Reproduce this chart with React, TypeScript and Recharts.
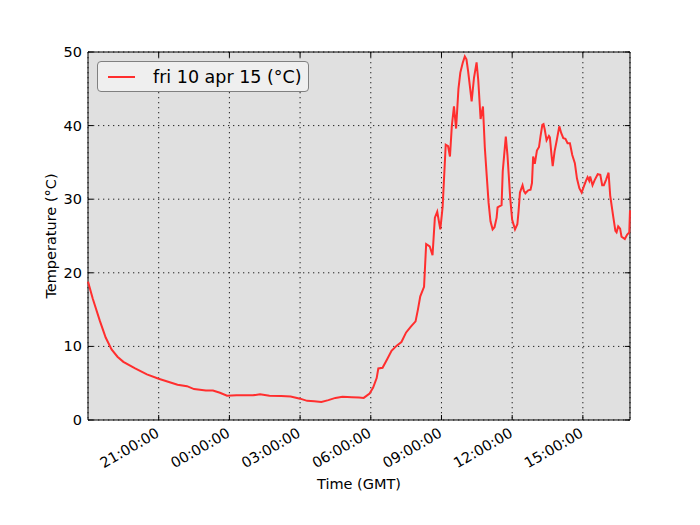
import {
  LineChart,
  Line,
  XAxis,
  YAxis,
  CartesianGrid,
  ReferenceArea,
  Legend,
} from "recharts";

// hours since 18:00 GMT (thu) and temperature
const hours = [
  0.0, 0.2, 0.5, 0.75, 1.0, 1.25, 1.5, 2.0, 2.5, 3.0, 3.4, 3.8, 4.2, 4.5, 5.0,
  5.3, 5.6, 5.9, 6.3, 7.0, 7.3, 7.7, 8.2, 8.6, 9.0, 9.3, 9.6, 9.9, 10.2, 10.5,
  10.8, 11.2, 11.5, 11.7, 11.95, 12.1, 12.25, 12.32, 12.5, 12.7, 12.88, 13.1,
  13.3, 13.5, 13.7, 13.9, 14.0, 14.1, 14.26, 14.35, 14.5, 14.62, 14.72, 14.82,
  14.95, 15.05, 15.18, 15.28, 15.36, 15.44, 15.53, 15.62, 15.72, 15.8, 15.9,
  15.99, 16.06, 16.13, 16.2, 16.28, 16.38, 16.49, 16.56, 16.66, 16.76, 16.84,
  16.92, 17.0, 17.08, 17.17, 17.25, 17.34, 17.38, 17.55, 17.6, 17.66, 17.73,
  17.8, 17.85, 17.92, 18.0, 18.12, 18.22, 18.27, 18.33, 18.44, 18.5, 18.56,
  18.68, 18.78, 18.84, 18.89, 18.96, 19.05, 19.14, 19.2, 19.28, 19.33, 19.38,
  19.46, 19.56, 19.6, 19.67, 19.72, 19.8, 19.88, 20.0, 20.08, 20.17, 20.26,
  20.35, 20.45, 20.55, 20.66, 20.75, 20.85, 20.95, 21.05, 21.13, 21.2, 21.27,
  21.31, 21.41, 21.5, 21.63, 21.74, 21.82, 21.89, 21.98, 22.09, 22.16, 22.29,
  22.38, 22.43, 22.5, 22.58, 22.64, 22.78, 22.88, 22.97, 23.0,
];

const temps = [
  18.8, 16.5, 13.5, 11.2, 9.6, 8.6, 7.9, 7.0, 6.2, 5.6, 5.2, 4.8, 4.6, 4.2, 4.0,
  4.0, 3.7, 3.3, 3.35, 3.35, 3.5, 3.3, 3.25, 3.2, 2.9, 2.6, 2.55, 2.45, 2.7, 3.0,
  3.15, 3.1, 3.05, 3.0, 3.6, 4.4, 5.7, 7.0, 7.1, 8.3, 9.4, 10.1,
  10.6, 11.9, 12.7, 13.4, 15.0, 16.8, 18.1, 23.9, 23.6, 22.4, 27.5, 28.3,
  25.9, 29.0, 37.4, 37.2, 35.8, 40.0, 42.6, 39.6, 45.0, 47.2, 48.5,
  49.4, 49.0, 47.4, 45.5, 43.3, 46.5, 48.6, 46.2, 40.9, 42.6, 37.0,
  33.2, 29.5, 27.0, 25.9, 26.2, 27.5, 28.9, 29.2, 33.8, 36.0, 38.5,
  36.0, 33.5, 30.0, 27.2, 25.9, 26.6, 28.3, 30.9, 31.9, 31.1, 30.8,
  31.2, 31.3, 32.2, 35.8, 34.8, 36.6, 37.1, 38.5, 40.1, 40.2, 39.5,
  38.0, 38.6, 38.4, 36.0, 34.5, 36.5, 37.8, 39.9, 39.0, 38.3, 38.2,
  37.6, 37.6, 36.0, 34.9, 32.8, 31.5, 30.9, 31.8, 32.5, 33.0, 32.5,
  33.1, 31.9, 32.6, 33.4, 33.3, 31.9, 31.9, 32.6, 33.6, 30.5, 27.6,
  25.7, 25.5, 26.3, 26.0, 24.9, 24.6, 25.2, 25.5, 28.5,
];

const xTicks = [3, 6, 9, 12, 15, 18, 21];
const yTicks = [0, 10, 20, 30, 40, 50];
const START_HOUR = 18;
const seriesName = "fri 10 apr 15 (°C)";

const data = hours.map((h, i) => ({ h, temp: temps[i] }));

const W = 700;
const H = 525;
const margin = { top: 52, right: 70, bottom: 30, left: 38 };
const X_AXIS_H = 75;
const Y_AXIS_W = 50;
const PLOT_TOP = margin.top;
const PLOT_BOTTOM = H - margin.bottom - X_AXIS_H;
const PLOT_LEFT = margin.left + Y_AXIS_W;
const PLOT_RIGHT = W - margin.right;
const FONT = "'DejaVu Sans', sans-serif";
const TICK_LEN = 5;
const RED = "#ff2e2e";

const fmtHour = (h: number) =>
  `${String((START_HOUR + h) % 24).padStart(2, "0")}:00:00`;

function XTick(props: any) {
  const { x, payload } = props;
  return (
    <g>
      <line x1={x} x2={x} y1={PLOT_BOTTOM} y2={PLOT_BOTTOM - TICK_LEN} stroke="#000" />
      <line x1={x} x2={x} y1={PLOT_TOP} y2={PLOT_TOP + TICK_LEN} stroke="#000" />
      <text
        x={x + 1.5}
        y={PLOT_BOTTOM + 16}
        textAnchor="end"
        fontSize={14.5}
        fontFamily={FONT}
        fill="#000"
        transform={`rotate(-30, ${x + 1.5}, ${PLOT_BOTTOM + 16})`}
      >
        {fmtHour(payload.value)}
      </text>
    </g>
  );
}

function YTick(props: any) {
  const { y, payload } = props;
  return (
    <g>
      <line x1={PLOT_LEFT} x2={PLOT_LEFT + TICK_LEN} y1={y} y2={y} stroke="#000" />
      <line x1={PLOT_RIGHT} x2={PLOT_RIGHT - TICK_LEN} y1={y} y2={y} stroke="#000" />
      <text
        x={PLOT_LEFT - 6}
        y={y + 5}
        textAnchor="end"
        fontSize={14.5}
        fontFamily={FONT}
        fill="#000"
      >
        {payload.value}
      </text>
    </g>
  );
}

function LegendBox() {
  return (
    <div
      style={{
        display: "flex",
        alignItems: "center",
        border: "1px solid #808080",
        borderRadius: 4,
        background: "#efefef",
        height: 29,
        padding: "0 6px 0 10px",
        fontFamily: FONT,
        fontSize: 17.5,
        whiteSpace: "nowrap",
      }}
    >
      <svg width={27} height={4} style={{ marginRight: 18 }}>
        <line x1={0} x2={27} y1={2} y2={2} stroke={RED} strokeWidth={2} />
      </svg>
      <span>{seriesName}</span>
    </div>
  );
}

export default function App() {
  return (
    <div style={{ position: "absolute", left: 0, top: 0, width: W, height: H, background: "#fff" }}>
      <LineChart width={W} height={H} data={data} margin={margin}>
        <CartesianGrid
          stroke="#222"
          strokeDasharray="1.3 3.7"
          fill="#e0e0e0"
          fillOpacity={1}
        />
        <XAxis
          dataKey="h"
          type="number"
          domain={[0, 23]}
          ticks={xTicks}
          height={X_AXIS_H}
          axisLine={false}
          tickLine={false}
          tickSize={0}
          tick={<XTick />}
          interval={0}
          label={{
            content: () => (
              <text
                x={(PLOT_LEFT + PLOT_RIGHT) / 2}
                y={488.5}
                textAnchor="middle"
                fontSize={14.5}
                fontFamily={FONT}
                fill="#000"
              >
                Time (GMT)
              </text>
            ),
          }}
        />
        <YAxis
          type="number"
          domain={[0, 50]}
          ticks={yTicks}
          width={Y_AXIS_W}
          axisLine={false}
          tickLine={false}
          tickSize={0}
          tick={<YTick />}
          interval={0}
          label={{
            content: () => (
              <text
                x={56}
                y={(PLOT_TOP + PLOT_BOTTOM) / 2}
                textAnchor="middle"
                fontSize={14.5}
                fontFamily={FONT}
                fill="#000"
                transform={`rotate(-90, 56, ${(PLOT_TOP + PLOT_BOTTOM) / 2})`}
              >
                Temperature (°C)
              </text>
            ),
          }}
        />
        <ReferenceArea
          x1={0}
          x2={23}
          y1={0}
          y2={50}
          fill="none"
          stroke="#000"
          strokeWidth={1}
        />
        <Line
          type="linear"
          dataKey="temp"
          name={seriesName}
          stroke={RED}
          strokeWidth={2}
          dot={false}
          isAnimationActive={false}
        />
        <Legend
          layout="vertical"
          align="center"
          verticalAlign="middle"
          content={() => <LegendBox />}
          wrapperStyle={{ position: "absolute", top: 61, left: 97, width: "auto" }}
        />
      </LineChart>
    </div>
  );
}
